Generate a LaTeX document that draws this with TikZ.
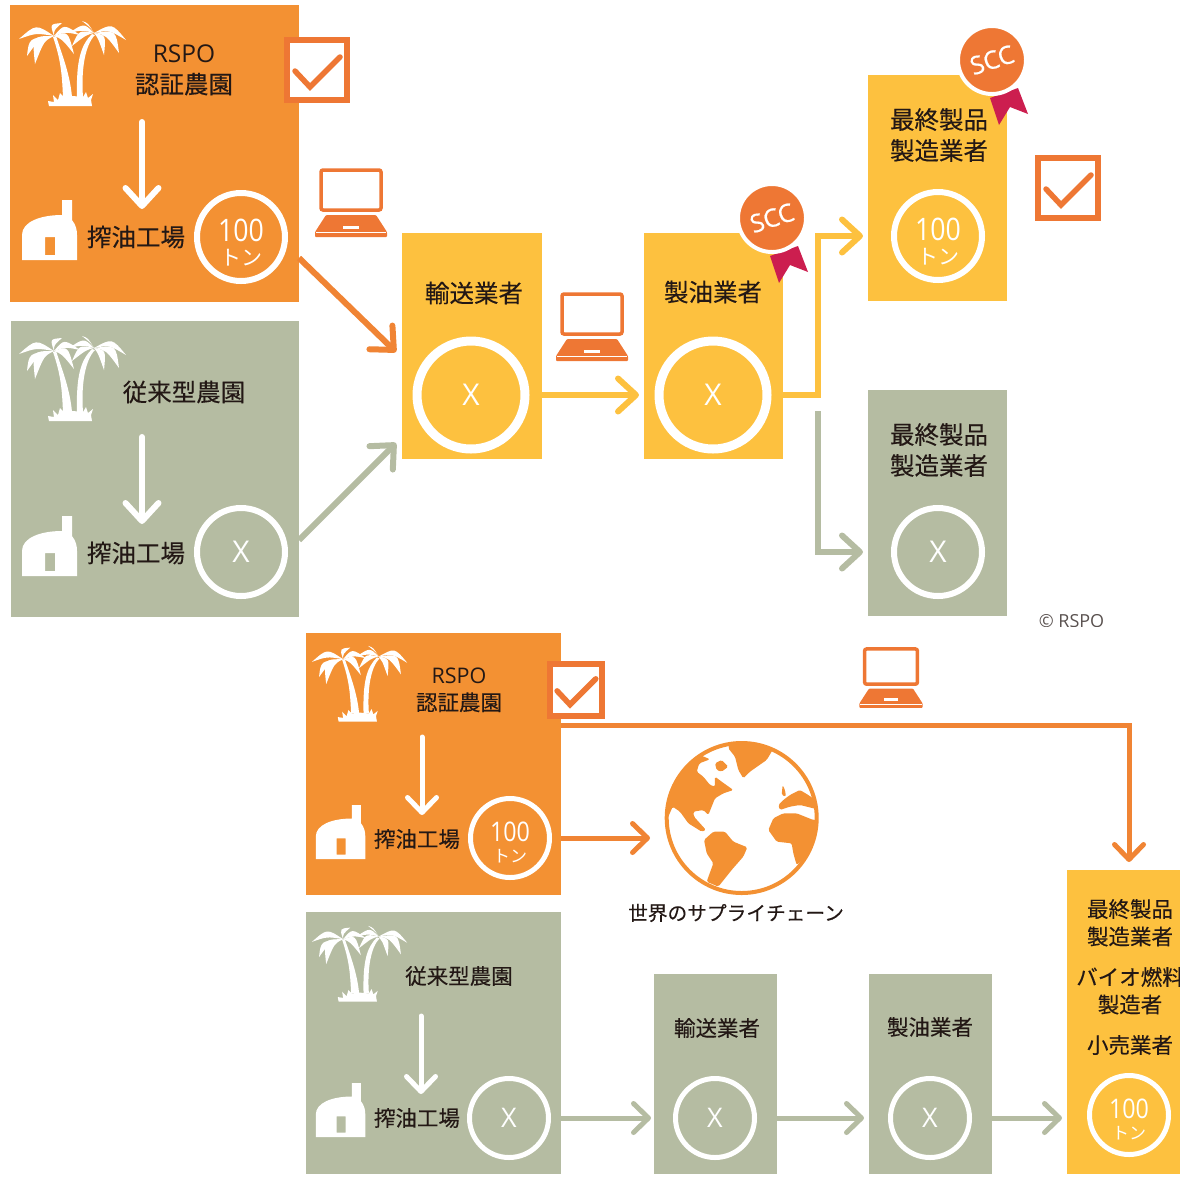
\documentclass[tikz,border=0pt]{standalone}
\usepackage{fontspec}
\setmainfont[FakeBold=.25]{Noto Sans CJK JP}
\newfontfamily\jpfont{Noto Sans CJK JP}
\newfontfamily\latinfont{Open Sans}
\newfontfamily\ringfont[FakeStretch=.86]{Open Sans}
\newfontfamily\sealfont[FakeBold=.6]{Open Sans}
\usetikzlibrary{arrows.meta}
\definecolor{orangebg}{HTML}{F39133}
\definecolor{orangeln}{HTML}{EE7734}
\definecolor{yellowbg}{HTML}{FDC13F}
\definecolor{greybg}{HTML}{B5BCA2}
\definecolor{ribbon}{HTML}{CC1E4F}
\definecolor{inkjp}{HTML}{231815}
\newcommand{\tonlabel}[2]{{\fontsize{#1}{#1}\ringfont\rule{0pt}{1.08em}100}\\[-6pt]{\fontsize{#2}{#2}\jpfont トン}}
\tikzset{
  panel/.style={rectangle,inner sep=0pt,outer sep=0pt},
  orangepanel/.style={panel,fill=orangebg},
  yellowpanel/.style={panel,fill=yellowbg},
  greypanel/.style={panel,fill=greybg},
  biglabel/.style={text=inkjp,align=center,inner sep=0pt,font=\fontsize{24.5}{31}\selectfont},
  midlabel/.style={text=inkjp,align=center,inner sep=0pt,font=\fontsize{21.5}{27}\selectfont},
  bigring/.style={circle,draw=white,line width=9pt,minimum size=108pt,inner sep=0pt,text=white,font=\fontsize{30}{30}\latinfont},
  midring/.style={circle,draw=white,line width=6pt,minimum size=88pt,inner sep=0pt,text=white,align=center,font=\fontsize{30}{30}\latinfont},
  lowring/.style={circle,draw=white,line width=5pt,minimum size=79pt,inner sep=0pt,text=white,align=center,font=\fontsize{27}{27}\latinfont},
  flow/.style={line width=6pt,-{Straight Barb[round,length=18pt,width=33pt]}},
  lowflow/.style={line width=5pt,-{Straight Barb[round,length=15pt,width=29pt]}},
  palm/.pic={
    \fill[white] (-20,-28) .. controls (-12,-5) and (-11,10) .. (-10,32) -- (-1,32) .. controls (-3,10) and (-10,-8) .. (-17,-29) -- cycle;
    \fill[white] (19,-31) .. controls (8,-20) and (3,-5) .. (4,32) -- (10,32) .. controls (8,5) and (12,-20) .. (22,-30) -- cycle;
    \fill[white] (-24,41) -- (-25,36) -- (-19,37) -- (-20,30) -- (-15,35) -- (-13,28) -- (-9,32) -- (0,31) -- (10,32) -- (13,27) -- (15,33) -- (20,29) -- (18,35) -- (19,41) -- cycle;
    \foreach \tx/\ty/\ax/\ay/\bx/\by in {-35/3/-18/-12/-18/-3,-27/20/-25/2/-14/2,-19/28/-22/0/-10/5,8/-13/-4/-12/0/-6,26/-1/10/-12/12/-4,20/18/14/-5/8/3}
      \fill[white,shift={(-19,-29)}] (0,0) .. controls (\ax,\ay) .. (\tx,\ty) .. controls (\bx,\by) .. (0,0);
    \foreach \tx/\ty/\ax/\ay/\bx/\by in {32/7/18/-10/15/-3,25/20/22/-3/12/2,10/22/12/2/4/5,-25/0/-10/-10/-12/-3,-22/13/-15/-3/-8/2,-12/-12/-6/-10/-3/-5}
      \fill[white,shift={(21,-32)}] (0,0) .. controls (\ax,\ay) .. (\tx,\ty) .. controls (\bx,\by) .. (0,0);
  },
  mill/.pic={
    \fill[white,even odd rule] (-28,30) -- (-28,5) .. controls (-28,-8) and (-10,-15) .. (12,-15) -- (12,-30) -- (22,-30) -- (22,-10) .. controls (26,-5) and (27,0) .. (27,5) -- (27,30) -- cycle
      (-5,7) rectangle (5,25);
  },
  laptop/.pic={
    \draw[orangeln,line width=3.5pt,rounded corners=2pt,fill=white] (-30,-33) rectangle (30,7);
    \fill[orangeln,rounded corners=1pt] (-25,12) -- (25,12) -- (36,29) -- (36,34) -- (-36,34) -- (-36,29) -- cycle;
    \fill[white] (-8,23) rectangle (8,26);
    \fill[white] (-35,29) rectangle (35,30);
  },
  tickbox/.pic={
    \draw[orangeln,line width=6pt,fill=white] (-30,-30) rectangle (30,30);
    \draw[orangeln,line width=5.5pt,line cap=round,line join=miter] (-22,1) -- (-7,17) -- (23,-13);
  },
  sccbadge/.pic={
    \fill[ribbon] (26,28) -- (36,54) -- (18,47) -- (7,65) -- (-2,38) -- cycle;
    \node[circle,fill=orangeln,draw=white,line width=4pt,minimum size=68pt,inner sep=0pt,text=white,rotate=18,font=\fontsize{25}{25}\sealfont] {SCC};
  },
}
\begin{document}
\begin{tikzpicture}[x=1pt,y=-1pt]
  \useasboundingbox (0,0) rectangle (1180,1179);
  \node[orangepanel,minimum width=289,minimum height=297] (A1) at (154.5,153.5) {};
  \node[greypanel,minimum width=288,minimum height=296] (B1) at (155,469) {};
  \node[yellowpanel,minimum width=140,minimum height=226] (T1) at (472,346) {};
  \node[yellowpanel,minimum width=139,minimum height=226] (R1) at (713.5,346) {};
  \node[yellowpanel,minimum width=139,minimum height=226] (M1) at (937.5,188) {};
  \node[greypanel,minimum width=139,minimum height=226] (M2) at (937.5,503) {};
  \node[orangepanel,minimum width=255,minimum height=262] (A2) at (433.5,764) {};
  \node[greypanel,minimum width=255,minimum height=262] (B2) at (433.5,1043) {};
  \node[greypanel,minimum width=123,minimum height=200] (T2) at (715.5,1074) {};
  \node[greypanel,minimum width=123,minimum height=200] (R2) at (930.5,1074) {};
  \node[yellowpanel,minimum width=113,minimum height=304] (Y2) at (1123.5,1022) {};

  \node[midring] (A1r) at (241,237) {\tonlabel{31}{21}};
  \node[midring] (B1r) at (241,552) {X};
  \node[bigring] (T1r) at (471,395) {X};
  \node[bigring] (R1r) at (713,395) {X};
  \node[midring] (M1r) at (938,236) {\tonlabel{31}{21}};
  \node[midring] (M2r) at (938,552) {X};
  \node[lowring] (A2r) at (510,838) {\tonlabel{27}{17}};
  \node[lowring] (B2r) at (509,1118) {X};
  \node[lowring] (T2r) at (715,1118) {X};
  \node[lowring] (R2r) at (930,1118) {X};
  \node[lowring] (Y2r) at (1129,1115) {\tonlabel{27}{17}};

  \node[biglabel] (A1t) at (184,70) {{\latinfont RSPO}\\認証農園};
  \node[biglabel] (A1m) at (136,237) {搾油工場};
  \node[biglabel] (B1t) at (184,392) {従来型農園};
  \node[biglabel] (B1m) at (136,553) {搾油工場};
  \node[biglabel] (T1t) at (474,293) {輸送業者};
  \node[biglabel] (R1t) at (713,292) {製油業者};
  \node[biglabel] (M1t) at (939,135) {最終製品\\製造業者};
  \node[biglabel] (M2t) at (939,450) {最終製品\\製造業者};
  \node[midlabel] (A2t) at (459,690) {{\latinfont RSPO}\\認証農園};
  \node[midlabel] (A2m) at (417,839) {搾油工場};
  \node[midlabel] (B2t) at (459,976) {従来型農園};
  \node[midlabel] (B2m) at (417,1118) {搾油工場};
  \node[midlabel] (T2t) at (717,1028) {輸送業者};
  \node[midlabel] (R2t) at (930,1027) {製油業者};
  \node[midlabel,font=\fontsize{21.5}{27.5}\selectfont] (Y2t) at (1130,977) {最終製品\\製造業者\\[13pt]バイオ燃料\\製造者\\[13pt]小売業者};
  \node[text=inkjp,inner sep=0pt,font=\fontsize{19.7}{24}\selectfont] (G1t) at (736,913) {世界のサプライチェーン};

  \begin{scope}
    \clip (1030,600) rectangle (1120,626);
    \node[anchor=base,text=inkjp!75,inner sep=0pt,font=\fontsize{18}{18}\latinfont] (C1) at (1071.5,627) {© RSPO};
  \end{scope}

  \pic at (73,65) {palm};
  \pic at (73,380) {palm};
  \pic[scale=.89] at (360,685) {palm};
  \pic[scale=.89] at (360,965) {palm};
  \pic at (50,230) {mill};
  \pic at (50,546) {mill};
  \pic[scale=.9] at (341,832) {mill};
  \pic[scale=.9] at (341,1110) {mill};

  \coordinate (a1) at (142,122);
  \coordinate (a2) at (142,209);
  \coordinate (b1) at (142,437);
  \coordinate (b2) at (142,524);
  \coordinate (c1) at (422,737);
  \coordinate (c2) at (422,815);
  \coordinate (d1) at (421,1016);
  \coordinate (d2) at (421,1094);
  \draw[flow,white,line cap=round] (a1) to (a2);
  \draw[flow,white,line cap=round] (b1) to (b2);
  \draw[lowflow,white,line cap=round] (c1) to (c2);
  \draw[lowflow,white,line cap=round] (d1) to (d2);

  \draw[flow,orangeln!50!orangebg] ([yshift=44pt]A1.south east) to ([xshift=-6pt,yshift=-6pt]T1.west);
  \draw[flow,greybg] ([yshift=77pt]B1.south east) to ([xshift=-6pt,yshift=16pt]T1.south west);
  \draw[flow,yellowbg,shorten >=5pt] (T1.east |- T1r) to (R1.west |- T1r);
  \draw[flow,yellowbg,shorten >=5pt] (R1.east |- R1r) -- (818,395) |- (M1.west |- M1r);
  \coordinate (S1) at (818,411);
  \draw[flow,greybg,shorten >=5pt] (S1) |- (M2.west |- M2r);

  \draw[lowflow,orangeln!50!orangebg,shorten >=8pt] ([yshift=39pt]A2.east) -| (Y2r |- Y2.north);
  \draw[lowflow,orangeln!50!orangebg,shorten >=14pt] (A2.east |- A2r) to (664,838);
  \draw[lowflow,greybg,shorten >=3pt] (B2.east |- B2r) to (T2.west |- B2r);
  \draw[lowflow,greybg,shorten >=5pt] (T2.east |- T2r) to (R2.west |- T2r);
  \draw[lowflow,greybg,shorten >=5pt] (R2.east |- R2r) to (Y2.west |- R2r);

  \node[circle,draw=orangebg,line width=4pt,minimum size=150pt,inner sep=0pt] (G1) at (741.7,818) {};
  \begin{scope}
    \clip (G1.center) circle (75pt);
    \begin{scope}[shift={(600,600)},x=.3333pt,y=-.3333pt,rounded corners=1.5pt]
      \fill[orangebg] (205,650) -- (190,600) -- (225,510) -- (300,465) -- (330,478) -- (298,490) -- (290,515) -- (310,530) -- (330,555) -- (345,560) -- (345,530) -- (365,545) -- (400,570) -- (370,580) -- (345,595) -- (325,645) -- (310,630) -- (280,635) -- (282,650) -- (318,690) -- (305,695) -- (265,670) -- (240,635) -- (218,620) -- cycle;
      \fill[orangebg] (345,490) -- (365,480) -- (385,500) -- (365,515) -- (350,510) -- cycle;
      \fill[orangebg] (390,425) -- (530,425) -- (515,455) -- (500,480) -- (450,515) -- (430,535) -- (415,510) -- (405,470) -- (385,445) -- cycle;
      \fill[orangebg] (312,720) -- (340,695) -- (375,695) -- (400,725) -- (442,742) -- (430,770) -- (395,810) -- (375,835) -- (355,860) -- (320,845) -- (340,790) -- (320,760) -- cycle;
      \fill[orangebg] (505,690) -- (520,655) -- (550,640) -- (590,640) -- (640,660) -- (660,660) -- (660,720) -- (620,770) -- (590,795) -- (580,760) -- (575,730) -- (530,725) -- cycle;
      \fill[orangebg] (535,615) -- (550,600) -- (570,585) -- (600,570) -- (625,585) -- (660,610) -- (660,630) -- (600,615) -- (570,620) -- (540,630) -- cycle;
      \fill[orangebg] (548,555) -- (555,570) -- (558,590) -- (545,585) -- cycle;
    \end{scope}
  \end{scope}

  \pic at (351,203) {laptop};
  \pic at (592,327) {laptop};
  \pic[scale=.88] at (891,678) {laptop};
  \pic at (317,70) {tickbox};
  \pic at (1068,188) {tickbox};
  \pic[scale=.86] at (576,690) {tickbox};
  \pic at (772,218) {sccbadge};
  \pic at (992,60) {sccbadge};
\end{tikzpicture}
\end{document}
